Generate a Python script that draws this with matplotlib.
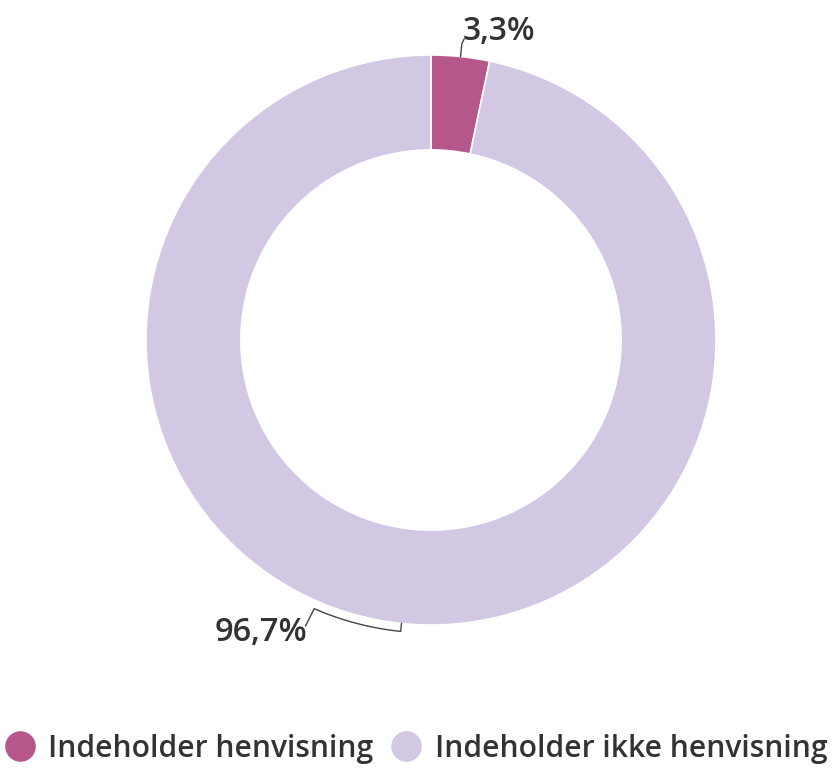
import matplotlib.pyplot as plt
import numpy as np
from matplotlib.lines import Line2D

# data
labels = ['Indeholder henvisning', 'Indeholder ikke henvisning']
values = [3.3, 96.7]
value_labels = ['3,3%', '96,7%']
colors = ['#b5578a', '#d2c8e4']

plt.rcParams['font.family'] = ['Open Sans', 'DejaVu Sans']
txt_color = '#333333'

fig = plt.figure(figsize=(8.37, 7.72), dpi=100)
# donut centre at (431, 340) px, outer radius 285 px
cx, cy, r = 431, 340, 285
ax = fig.add_axes([(cx - r) / 837, (772 - cy - r) / 772, 2 * r / 837, 2 * r / 772])

wedges, _ = ax.pie(values, colors=colors, startangle=90, counterclock=False,
                   radius=1, wedgeprops=dict(width=0.333, edgecolor='white', linewidth=1.2))
ax.set_aspect('auto')
ax.set_xlim(-1, 1)
ax.set_ylim(-1, 1)
ax.axis('off')

# data labels with connectors
# small slice: straight up from the edge
w0 = wedges[0]
a0 = np.deg2rad((w0.theta1 + w0.theta2) / 2)
x0, y0 = np.cos(a0), np.sin(a0)
ax.plot([x0, x0 + 0.005, x0 + 0.012], [y0, y0 + 0.045, y0 + 0.06], color='#444444', lw=1, clip_on=False)
ax.text(x0 + 0.008, y0 + 0.03, value_labels[0], fontsize=23, fontweight='semibold',
        color=txt_color, ha='left', va='bottom')

# big slice: tick, arc, then label
w1 = wedges[1]
a1 = np.deg2rad((w1.theta1 + w1.theta2) / 2)
r2 = 1.028
arc = np.linspace(a1, np.deg2rad(-113.5), 40)
xs = np.concatenate([[np.cos(a1)], r2 * np.cos(arc)])
ys = np.concatenate([[np.sin(a1)], r2 * np.sin(arc)])
xe, ye = xs[-1], ys[-1]
xs = np.append(xs, xe - 0.03)
ys = np.append(ys, ye - 0.06)
ax.plot(xs, ys, color='#444444', lw=1, clip_on=False)
ax.text(xe - 0.025, ye - 0.082, value_labels[1], fontsize=23.5, fontweight='semibold',
        color=txt_color, ha='right', va='center')

# legend
handles = [Line2D([0], [0], marker='o', linestyle='', markersize=21, markerfacecolor=c,
                  markeredgecolor=c) for c in colors]
leg = fig.legend(handles, labels, loc='lower center', bbox_to_anchor=(0.497, -0.024), ncol=2,
                 frameon=False, fontsize=21.6, handletextpad=0.45, columnspacing=0.6,
                 handlelength=1.0)
for t in leg.get_texts():
    t.set_color(txt_color)
    t.set_fontweight('semibold')

fig.savefig('out.png', dpi=100)
